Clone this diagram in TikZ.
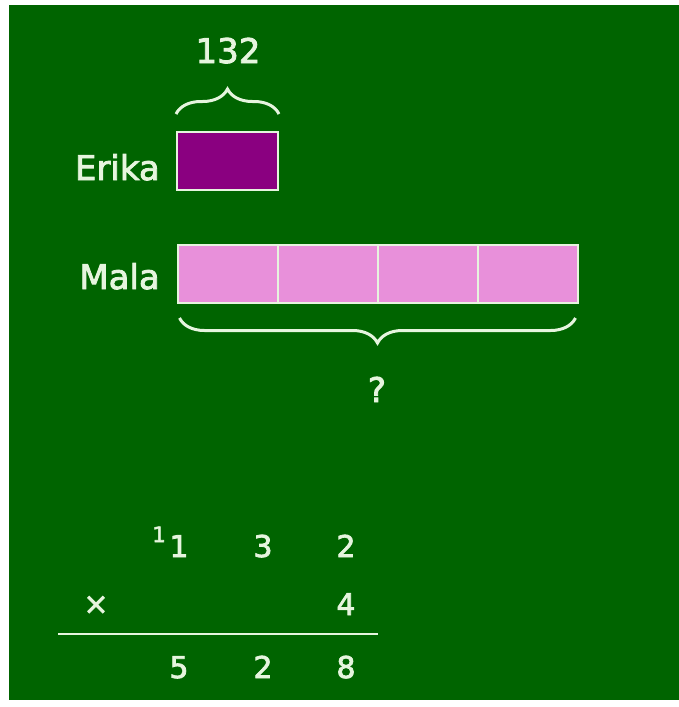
\documentclass[tikz,border=0pt]{standalone}
\usepackage{fontspec}
\setmainfont{DejaVu Sans}[RawFeature={embolden=2.5}]
\usetikzlibrary{positioning,decorations.pathreplacing,calc}
\definecolor{board}{RGB}{0,100,0}
\definecolor{chalk}{RGB}{230,245,222}
\definecolor{erikafill}{RGB}{138,0,128}
\definecolor{malafill}{RGB}{232,144,218}
\tikzset{
barbox/.style={draw=chalk,line width=2pt,minimum height=58pt,inner sep=0pt},
erikabar/.style={barbox,fill=erikafill,minimum width=101pt},
malabar/.style={barbox,fill=malafill,minimum width=100pt},
kidname/.style={text=chalk,inner sep=0pt,font=\fontsize{34}{40}\selectfont},
digit/.style={text=chalk,inner sep=0pt,font=\fontsize{30}{36}\selectfont},
carrydigit/.style={text=chalk,inner sep=0pt,font=\fontsize{21}{25}\selectfont},
bracket/.style={draw=chalk,line width=3pt,decorate,decoration={brace,amplitude=25pt}},
sumrule/.style={draw=chalk,line width=2.2pt}
}
\begin{document}
\begin{tikzpicture}[x=1pt,y=-1pt]
\useasboundingbox (0,0) rectangle (679,707);
\fill[white] (0,0) rectangle (679,707);
\fill[board] (9,5) rectangle (679,700);
% bars
\node[erikabar] (erika) at (227.5,161) {};
\foreach \i in {0,...,3}
  \node[malabar] (mala\i) at (227.5+100*\i,274) {};
\node[kidname,anchor=base east] (erikaname) at (160,180) {Erika};
\node[kidname,anchor=base east] (malaname) at (160,289) {Mala};
% braces
\draw[bracket,decoration={raise=17pt}] (erika.north west) -- (erika.north east);
\draw[bracket,decoration={raise=14pt}] ($(mala3.south east)+(-3,0)$) -- ($(mala0.south west)+(3,0)$);
\node[kidname,anchor=base] (part) at (228,63) {132};
\node[kidname,anchor=base] (total) at (377,402) {?};
% multiplication
\node[carrydigit,anchor=base] (carry) at (159,542) {1};
\node[digit,anchor=base] (a1) at (179,557) {1};
\node[digit,anchor=base] (a2) at (263,557) {3};
\node[digit,anchor=base] (a3) at (346,557) {2};
\node[digit] (times) at (96,605) {×};
\node[digit,anchor=base] (b3) at (346,615) {4};
\coordinate (ruleL) at (58,634);
\coordinate (ruleR) at (378,634);
\draw[sumrule] (ruleL) -- (ruleR);
\node[digit,anchor=base] (c1) at (179,678) {5};
\node[digit,anchor=base] (c2) at (263,678) {2};
\node[digit,anchor=base] (c3) at (346,678) {8};
\end{tikzpicture}
\end{document}
